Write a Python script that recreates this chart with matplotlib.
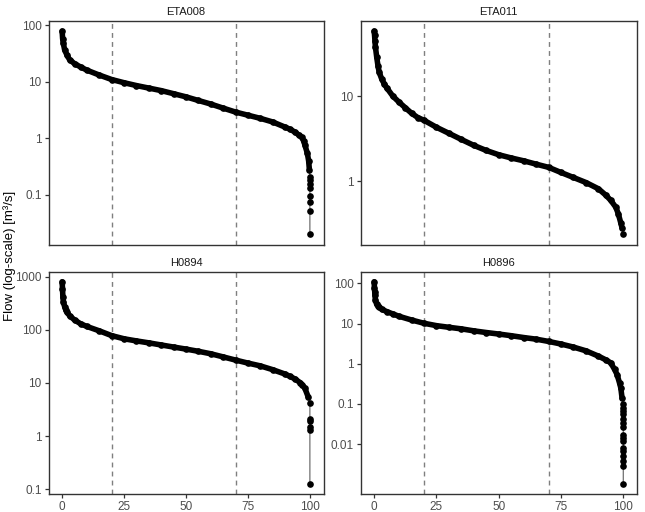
import numpy as np
import matplotlib
matplotlib.use("Agg")
import matplotlib.pyplot as plt
from matplotlib.ticker import FixedLocator, NullLocator, FuncFormatter

plt.rcParams['font.family'] = ['Liberation Sans', 'DejaVu Sans']

stations = ["ETA008", "ETA011", "H0894", "H0896"]

eta008_pct = [0, 0.2, 0.5, 1, 2, 3, 5, 7.5, 10, 15, 20, 25, 30, 35, 40, 45, 50, 55, 60, 65, 70, 75, 80, 85,
              90, 92, 94, 95.5, 96.7, 97.5, 98, 99, 99.5, 99.8, 100, 100, 100, 100, 100, 100, 100, 100]
eta008_flow = [79, 58, 48, 37, 29.5, 24.7, 21, 18.3, 16.1, 13.2, 11.0, 9.66, 8.6, 7.76, 7.0, 6.17, 5.43, 4.68, 4.05,
               3.43, 2.92, 2.57, 2.26, 1.95, 1.58, 1.45, 1.29, 1.15, 1.04, 0.9, 0.76, 0.54, 0.4, 0.28, 0.21,
               0.184, 0.156, 0.13, 0.096, 0.076, 0.051, 0.020]

eta011_pct = [0, 0.15, 0.3, 0.5, 1, 1.5, 2, 3, 4, 5, 7.5, 10, 12.5, 15, 17.5, 20, 25, 30, 35, 40, 45,
              50, 55, 60, 65, 70, 75, 80, 85, 90, 93, 95, 97, 98, 99, 99.5, 100]
eta011_flow = [58.5, 52, 45, 38, 29, 23, 19.2, 16, 14, 12.6, 10, 8.5, 7.3, 6.3, 5.6, 5.2, 4.3, 3.65, 3.09, 2.63, 2.29,
               2.04, 1.87, 1.73, 1.58, 1.45, 1.26, 1.10, 0.96, 0.81, 0.68, 0.59, 0.49, 0.41, 0.32, 0.28, 0.235]

h0894_pct = [0, 0.15, 0.3, 0.5, 1, 1.5, 2, 3, 5, 7.5, 10, 15, 20, 25, 30, 35, 40, 45, 50, 55, 60, 65, 70, 75,
             80, 85, 90, 92, 94, 96, 97, 98, 99.3, 100, 100, 100, 100, 100, 100]
h0894_flow = [805, 600, 420, 340, 275, 237, 215, 185, 154, 130, 116, 96, 78, 68, 62, 57, 52, 47.5, 43.5, 39.5, 35.5,
              31, 27, 23.7, 21, 17.8, 14.7, 13.3, 11.9, 10.2, 9.2, 7.9, 5.5, 4.2, 2.1, 1.9, 1.5, 1.3, 0.124]

h0896_pct = [0, 0.1, 0.2, 0.3, 0.5, 1, 1.5, 2, 3, 5, 7.5, 10, 15, 20, 25, 30, 35, 40, 45, 50, 55, 60, 65,
             70, 75, 80, 85, 90, 93, 95, 96.5, 97.5, 98.5, 99, 99.5,
             100, 100, 100, 100, 100, 100, 100, 100, 100, 100, 100, 100, 100, 100, 100, 100]
h0896_flow = [110, 75, 63, 51, 39, 30, 28, 25.6, 22.8, 20, 17.4, 15.2, 12.3, 10.2, 8.9, 8.1, 7.4, 6.6, 6.0, 5.5, 5.0,
              4.5, 4.1, 3.6, 3.1, 2.6, 2.1, 1.55, 1.25, 1.05, 0.72, 0.54, 0.33, 0.25, 0.14,
              0.097, 0.080, 0.066, 0.055, 0.043, 0.034, 0.026, 0.017, 0.0145, 0.012, 0.0082, 0.0067, 0.0051, 0.0038,
              0.0029, 0.001]

series = {
    "ETA008": (eta008_pct, eta008_flow),
    "ETA011": (eta011_pct, eta011_flow),
    "H0894": (h0894_pct, h0894_flow),
    "H0896": (h0896_pct, h0896_flow),
}

ref_lines = [20, 70]
x_ticks = [0, 25, 50, 75, 100]
y_breaks = [0.01, 0.1, 1, 10, 100, 1000]

W, H = 645, 512
fig = plt.figure(figsize=(W / 100, H / 100), dpi=100)

# panel boxes in pixels: left, top, right, bottom
boxes = {
    "ETA008": (48.5, 21, 323.5, 244.5),
    "ETA011": (360.5, 21, 637, 244.5),
    "H0894": (48.5, 271.7, 323.5, 494.3),
    "H0896": (360.5, 271.7, 637, 494.3),
}

border_col = "#333333"
for i, name in enumerate(stations):
    l, t, r, b = boxes[name]
    ax = fig.add_axes([l / W, 1 - b / H, (r - l) / W, (b - t) / H])
    x, y = series[name]
    x = np.array(x, dtype=float)
    y = np.array(y, dtype=float)
    for v in ref_lines:
        ax.axvline(v, color="#7f7f7f", lw=1.0, ls=(0, (3.5, 3)), zorder=1)
    ax.plot(x, y, color="#707070", lw=0.9, zorder=2)
    body = x < 100
    ax.plot(x[body], y[body], color="black", lw=4.0, solid_capstyle="round",
            solid_joinstyle="round", zorder=3)
    ax.plot(x, y, "o", color="black", ms=4.8, mew=0, zorder=4)
    ax.set_yscale("log")
    lo, hi = np.log10(y.min()), np.log10(y.max())
    pad = 0.05 * (hi - lo)
    ymin, ymax = 10 ** (lo - pad), 10 ** (hi + pad)
    ax.set_ylim(ymin, ymax)
    ax.set_xlim(-5.5, 105.5)
    ax.yaxis.set_major_locator(FixedLocator([v for v in y_breaks if ymin <= v <= ymax]))
    ax.yaxis.set_minor_locator(NullLocator())
    ax.yaxis.set_major_formatter(FuncFormatter(lambda v, p: "%g" % v))
    ax.xaxis.set_major_locator(FixedLocator(x_ticks))
    ax.xaxis.set_minor_locator(NullLocator())
    for s in ax.spines.values():
        s.set_color(border_col)
        s.set_linewidth(1.0)
    ax.tick_params(axis="both", colors=border_col, labelcolor="#4d4d4d", labelsize=8.5,
                   length=3, width=0.9, pad=2)
    if i < 2:
        ax.tick_params(axis="x", bottom=False, labelbottom=False)
    ax.set_title(name, fontsize=8, color="#1a1a1a", pad=4)

fig.text(10 / W, 1 - 256 / H, "Flow (log-scale) [m³/s]", rotation=90, ha="center", va="center",
         fontsize=9.5, color="black")

fig.savefig("out.png", dpi=100)
